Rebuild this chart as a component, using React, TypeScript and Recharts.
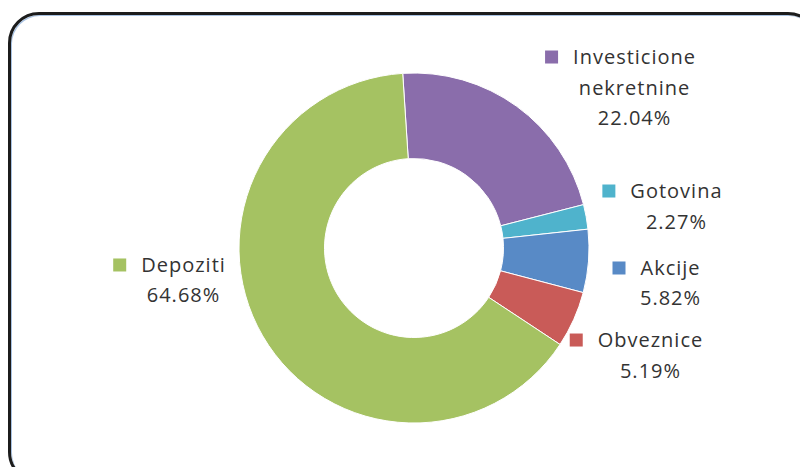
import React from "react";
import { PieChart, Pie, Cell } from "recharts";

const categories = ["Investicione nekretnine", "Gotovina", "Akcije", "Obveznice", "Depoziti"];
const shares = [22.04, 2.27, 5.82, 5.19, 64.68];
const colors = ["#8A6DAB", "#4FB3CC", "#588AC6", "#C95B58", "#A5C262"];

// label layout: offset of each label block from the radial point outside its slice
const labelNudge: [number, number][] = [
  [100.8, -26.7],
  [62.2, -20.8],
  [53.6, 4.8],
  [50.7, 9.1],
  [-55.4, -84.9],
];

const FONT_FAMILY = "'Open Sans'";
const FONT_SIZE = 20;
const LETTER_SP = 1;
const LINE_H = 30.5;
const RAD = Math.PI / 180;

const data = categories.map((name, i) => ({ name, value: shares[i] }));

let measureCtx: any = null;
function measure(text: string): number {
  if (!measureCtx) {
    const c = document.createElement("canvas");
    measureCtx = c.getContext("2d");
  }
  if (!measureCtx) return text.length * FONT_SIZE * 0.5;
  measureCtx.font = `${FONT_SIZE}px ${FONT_FAMILY}`;
  return measureCtx.measureText(text).width + LETTER_SP * (text.length - 1);
}

function splitName(name: string): string[] {
  if (name.length > 12 && name.includes(" ")) return name.split(" ");
  return [name];
}

const renderLabel = (props: any) => {
  const { cx, cy, midAngle, outerRadius, index } = props;
  const r = outerRadius + 28;
  const px = cx + r * Math.cos(-midAngle * RAD);
  const py = cy + r * Math.sin(-midAngle * RAD);
  const [nx, ny] = labelNudge[index];
  const x = px + nx;
  const y0 = py + ny;
  const lines = [...splitName(categories[index]), `${shares[index].toFixed(2)}%`];
  const w0 = measure(lines[0]);
  const sq = 13;
  const sqX = x - w0 / 2 - 15 - sq;
  return (
    <g key={`lbl-${index}`}>
      <rect x={sqX} y={y0 - sq / 2} width={sq} height={sq} fill={colors[index]} />
      {lines.map((t, i) => (
        <text
          key={i}
          x={x + LETTER_SP / 2}
          y={y0 + i * LINE_H + 7}
          textAnchor="middle"
          fontFamily={FONT_FAMILY}
          fontSize={FONT_SIZE}
          letterSpacing={LETTER_SP}
          fill="#333333"
        >
          {t}
        </text>
      ))}
    </g>
  );
};

export default function App() {
  return (
    <div style={{ position: "relative", margin: -8, width: 808, height: 475, overflow: "hidden", background: "#fff" }}>
      <div
        style={{
          position: "absolute",
          left: 8,
          top: 12,
          width: 805,
          height: 465,
          border: "3px solid #1c1c1c",
          borderRadius: 31,
          boxShadow: "inset 1px 1px 0 #a9c3e3",
        }}
      />
      <div style={{ position: "absolute", left: 0, top: 0 }}>
        <PieChart width={808} height={475} margin={{ top: 0, right: 0, bottom: 0, left: 0 }}>
          <Pie
            data={data}
            dataKey="value"
            nameKey="name"
            cx={414}
            cy={248}
            innerRadius={89.5}
            outerRadius={175}
            startAngle={93.7}
            endAngle={-266.3}
            stroke="#ffffff"
            strokeWidth={1}
            label={renderLabel}
            labelLine={false}
            isAnimationActive={false}
          >
            {data.map((d, i) => (
              <Cell key={d.name} fill={colors[i]} />
            ))}
          </Pie>
        </PieChart>
      </div>
    </div>
  );
}
